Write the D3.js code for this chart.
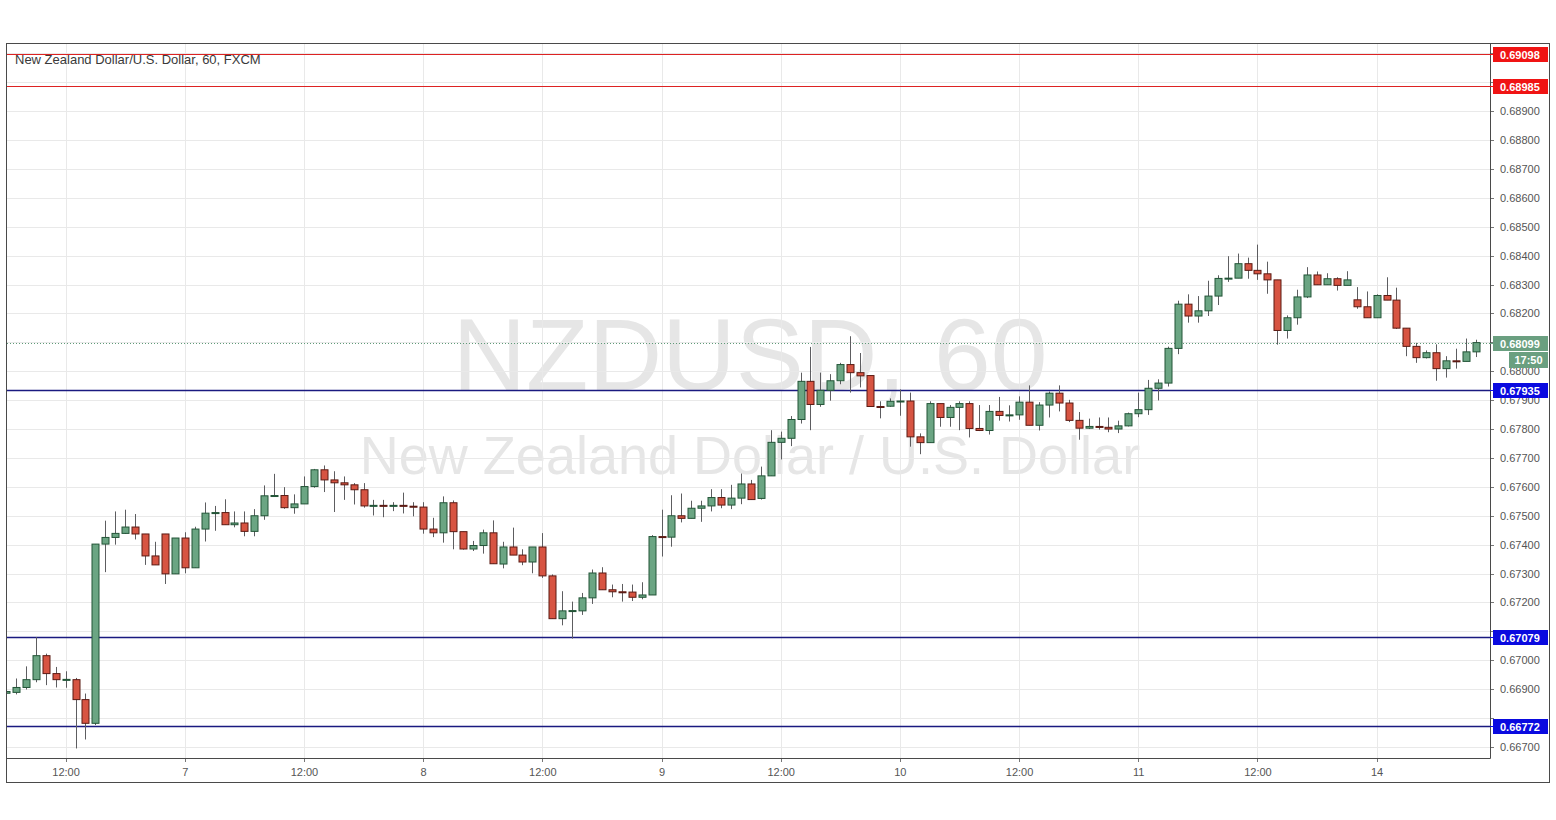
<!DOCTYPE html>
<html>
<head>
<meta charset="utf-8">
<script src="https://cdn.jsdelivr.net/npm/d3@7"></script>
<style>
  html, body { margin: 0; padding: 0; background: #ffffff; }
  svg { display: block; }
  text { font-family: "Liberation Sans", Arial, sans-serif; }
</style>
</head>
<body>
<svg id="chart" width="1556" height="820"></svg>
<script>
// ---------------- DATA ----------------
const symbolTitle = "New Zealand Dollar/U.S. Dollar, 60, FXCM";
const watermarkMain = "NZDUSD, 60";
const watermarkSub = "New Zealand Dollar / U.S. Dollar";

// hourly bars, index 0 = first bar shown
const opens = [
  0.66886,0.66889,0.66906,0.66933,0.67016,0.66954,0.66932,0.66933,0.66864,0.66782,
  0.67402,0.67425,0.67439,0.67461,0.67437,0.67361,0.67437,0.67299,0.67423,0.67320,
  0.67454,0.67510,0.67511,0.67469,0.67475,0.67446,0.67500,0.67569,0.67570,0.67528,
  0.67541,0.67601,0.67659,0.67624,0.67614,0.67607,0.67590,0.67533,0.67536,0.67533,
  0.67536,0.67533,0.67530,0.67454,0.67441,0.67545,0.67445,0.67385,0.67397,0.67441,
  0.67333,0.67392,0.67364,0.67340,0.67392,0.67292,0.67144,0.67171,0.67171,0.67216,
  0.67302,0.67244,0.67237,0.67236,0.67218,0.67226,0.67428,0.67426,0.67500,0.67491,
  0.67526,0.67534,0.67563,0.67537,0.67561,0.67610,0.67560,0.67638,0.67754,0.67768,
  0.67833,0.67965,0.67885,0.67934,0.67967,0.68023,0.67995,0.67985,0.67878,0.67879,
  0.67896,0.67897,0.67773,0.67753,0.67888,0.67840,0.67875,0.67888,0.67802,0.67795,
  0.67861,0.67847,0.67849,0.67893,0.67813,0.67883,0.67924,0.67890,0.67830,0.67803,
  0.67809,0.67806,0.67800,0.67811,0.67853,0.67867,0.67941,0.67959,0.68079,0.68232,
  0.68191,0.68209,0.68260,0.68321,0.68322,0.68372,0.68349,0.68337,0.68316,0.68141,
  0.68185,0.68257,0.68333,0.68299,0.68320,0.68297,0.68247,0.68223,0.68185,0.68262,
  0.68246,0.68149,0.68086,0.68047,0.68064,0.68009,0.68036,0.68034,0.68067
];
const highs = [
  0.66900,0.66937,0.66979,0.67080,0.67023,0.66977,0.66962,0.66939,0.66885,0.67402,
  0.67483,0.67515,0.67521,0.67506,0.67437,0.67410,0.67437,0.67423,0.67443,0.67462,
  0.67546,0.67534,0.67557,0.67515,0.67515,0.67523,0.67605,0.67645,0.67599,0.67574,
  0.67636,0.67662,0.67674,0.67654,0.67636,0.67613,0.67613,0.67555,0.67555,0.67547,
  0.67580,0.67547,0.67547,0.67493,0.67567,0.67553,0.67445,0.67413,0.67452,0.67484,
  0.67410,0.67459,0.67384,0.67392,0.67440,0.67297,0.67239,0.67203,0.67233,0.67314,
  0.67322,0.67262,0.67264,0.67262,0.67270,0.67433,0.67521,0.67571,0.67577,0.67552,
  0.67552,0.67592,0.67592,0.67607,0.67646,0.67624,0.67670,0.67796,0.67791,0.67845,
  0.67995,0.68084,0.67995,0.67990,0.68029,0.68121,0.68063,0.67985,0.67896,0.67906,
  0.67937,0.67926,0.67785,0.67896,0.67888,0.67883,0.67896,0.67896,0.67883,0.67883,
  0.67911,0.67882,0.67913,0.67951,0.67893,0.67930,0.67951,0.67901,0.67859,0.67836,
  0.67840,0.67840,0.67829,0.67857,0.67926,0.67970,0.67972,0.68085,0.68244,0.68266,
  0.68260,0.68313,0.68332,0.68398,0.68407,0.68393,0.68438,0.68379,0.68316,0.68193,
  0.68282,0.68360,0.68345,0.68339,0.68325,0.68346,0.68291,0.68276,0.68266,0.68325,
  0.68289,0.68149,0.68098,0.68072,0.68093,0.68052,0.68078,0.68113,0.68109
];
const lows = [
  0.66880,0.66882,0.66899,0.66924,0.66914,0.66906,0.66905,0.66695,0.66726,0.66776,
  0.67305,0.67400,0.67437,0.67418,0.67330,0.67330,0.67264,0.67299,0.67301,0.67320,
  0.67411,0.67448,0.67469,0.67460,0.67429,0.67429,0.67486,0.67567,0.67524,0.67507,
  0.67541,0.67597,0.67582,0.67513,0.67555,0.67539,0.67528,0.67501,0.67495,0.67516,
  0.67508,0.67498,0.67438,0.67426,0.67407,0.67384,0.67383,0.67378,0.67369,0.67334,
  0.67318,0.67364,0.67329,0.67301,0.67285,0.67144,0.67121,0.67075,0.67157,0.67195,
  0.67244,0.67218,0.67203,0.67205,0.67211,0.67226,0.67359,0.67393,0.67477,0.67491,
  0.67479,0.67515,0.67526,0.67523,0.67540,0.67555,0.67556,0.67638,0.67695,0.67741,
  0.67819,0.67796,0.67877,0.67898,0.67955,0.67926,0.67944,0.67878,0.67837,0.67877,
  0.67846,0.67739,0.67713,0.67753,0.67808,0.67808,0.67796,0.67771,0.67793,0.67781,
  0.67829,0.67826,0.67832,0.67813,0.67795,0.67840,0.67861,0.67824,0.67763,0.67800,
  0.67798,0.67789,0.67786,0.67809,0.67841,0.67849,0.67899,0.67947,0.68059,0.68168,
  0.68168,0.68191,0.68229,0.68309,0.68322,0.68320,0.68316,0.68268,0.68092,0.68113,
  0.68161,0.68253,0.68299,0.68299,0.68279,0.68297,0.68216,0.68185,0.68185,0.68246,
  0.68146,0.68052,0.68029,0.68044,0.67967,0.67978,0.68009,0.68034,0.68049
];
const closes = [
  0.66892,0.66906,0.66933,0.67016,0.66954,0.66933,0.66934,0.66864,0.66782,0.67402,
  0.67425,0.67439,0.67461,0.67437,0.67361,0.67330,0.67299,0.67423,0.67320,0.67454,
  0.67509,0.67511,0.67469,0.67475,0.67446,0.67500,0.67569,0.67570,0.67528,0.67541,
  0.67601,0.67659,0.67624,0.67614,0.67607,0.67590,0.67534,0.67536,0.67534,0.67536,
  0.67533,0.67530,0.67454,0.67441,0.67545,0.67445,0.67385,0.67397,0.67441,0.67334,
  0.67392,0.67364,0.67340,0.67392,0.67292,0.67144,0.67171,0.67172,0.67216,0.67302,
  0.67244,0.67237,0.67236,0.67218,0.67226,0.67428,0.67426,0.67500,0.67491,0.67526,
  0.67534,0.67563,0.67537,0.67561,0.67610,0.67556,0.67638,0.67754,0.67768,0.67833,
  0.67965,0.67885,0.67934,0.67967,0.68023,0.67995,0.67984,0.67878,0.67877,0.67896,
  0.67897,0.67773,0.67753,0.67888,0.67840,0.67875,0.67888,0.67802,0.67795,0.67861,
  0.67847,0.67849,0.67893,0.67813,0.67883,0.67924,0.67890,0.67830,0.67803,0.67809,
  0.67806,0.67800,0.67811,0.67853,0.67867,0.67941,0.67959,0.68079,0.68232,0.68191,
  0.68209,0.68260,0.68321,0.68322,0.68372,0.68349,0.68337,0.68316,0.68141,0.68185,
  0.68257,0.68333,0.68299,0.68320,0.68297,0.68316,0.68223,0.68185,0.68262,0.68246,
  0.68149,0.68086,0.68047,0.68064,0.68009,0.68036,0.68034,0.68067,0.68099
];

// time-axis labels placed at bar indices
const timeTickIndex = [6, 18, 30, 42, 54, 66, 78, 90, 102, 114, 126, 138];
const timeTickLabel = ["12:00","7","12:00","8","12:00","9","12:00","10","12:00","11","12:00","14"];

// horizontal levels
const resistanceLevels = [0.69098, 0.68985];
const supportLevels = [0.67935, 0.67079, 0.66772];
const lastPrice = 0.68099;
const countdown = "17:50";

// price axis ticks
const priceTicks = d3.range(0.667, 0.69101, 0.001).map(v => +v.toFixed(3));

// ---------------- LAYOUT ----------------
const plot = { left: 7, top: 44, right: 1490, bottom: 758 };
const frame = { left: 6.5, top: 43.5, right: 1549.5, bottom: 782.5 };

const svg = d3.select("#chart");

const n = opens.length;
const x = d3.scaleLinear().domain([0, n - 1]).range([6, 6 + (n - 1) * 9.932]);
const y = d3.scaleLinear().domain([0.66662, 0.69132]).range([plot.bottom, plot.top]);

const fmt = d3.format(".5f");

// clip
svg.append("defs").append("clipPath").attr("id", "plotclip")
  .append("rect").attr("x", plot.left).attr("y", plot.top)
  .attr("width", plot.right - plot.left).attr("height", plot.bottom - plot.top);

// watermark
const wm = svg.append("g").attr("fill", "#e6e6e6").attr("text-anchor", "middle");
wm.append("text").attr("x", 750).attr("y", 390).attr("font-size", 102).text(watermarkMain);
wm.append("text").attr("x", 750).attr("y", 474).attr("font-size", 54).text(watermarkSub);

// grid
const grid = svg.append("g").attr("clip-path", "url(#plotclip)");
grid.selectAll("line.h").data(d3.range(0.667, 0.6915, 0.001).map(v => +v.toFixed(3))).join("line")
  .attr("x1", plot.left).attr("x2", plot.right)
  .attr("y1", d => Math.round(y(d)) + 0.5).attr("y2", d => Math.round(y(d)) + 0.5)
  .attr("stroke", "#e9e9e9").attr("stroke-width", 1);
grid.selectAll("line.v").data(timeTickIndex).join("line")
  .attr("x1", d => Math.round(x(d)) + 0.5).attr("x2", d => Math.round(x(d)) + 0.5)
  .attr("y1", plot.top).attr("y2", plot.bottom)
  .attr("stroke", "#e9e9e9").attr("stroke-width", 1);

// title
svg.append("text").attr("x", 15).attr("y", 64).attr("font-size", 13)
  .attr("fill", "#3a3a3a").text(symbolTitle);

// levels lines
const lev = svg.append("g").attr("clip-path", "url(#plotclip)");
lev.selectAll("line.r").data(resistanceLevels).join("line")
  .attr("x1", plot.left).attr("x2", plot.right)
  .attr("y1", d => Math.round(y(d)) + 0.5).attr("y2", d => Math.round(y(d)) + 0.5)
  .attr("stroke", "#dd2222").attr("stroke-width", 1.2);
lev.selectAll("line.s").data(supportLevels).join("line")
  .attr("x1", plot.left).attr("x2", plot.right)
  .attr("y1", d => Math.round(y(d)) + 0.5).attr("y2", d => Math.round(y(d)) + 0.5)
  .attr("stroke", "#1a1a80").attr("stroke-width", 1.3);
lev.append("line")
  .attr("x1", plot.left).attr("x2", plot.right)
  .attr("y1", Math.round(y(lastPrice)) + 0.5).attr("y2", Math.round(y(lastPrice)) + 0.5)
  .attr("stroke", "#5f9a78").attr("stroke-width", 1).attr("stroke-dasharray", "1,2");

// candles
const bars = d3.range(n).map(i => ({ i, o: opens[i], h: highs[i], l: lows[i], c: closes[i] }));
const cg = svg.append("g").attr("clip-path", "url(#plotclip)");
const bw = 7;
cg.selectAll("line.wick").data(bars).join("line")
  .attr("x1", d => Math.round(x(d.i)) + 0.5).attr("x2", d => Math.round(x(d.i)) + 0.5)
  .attr("y1", d => y(d.h)).attr("y2", d => y(d.l))
  .attr("stroke", "#5d5d60").attr("stroke-width", 1);
cg.selectAll("rect.body").data(bars).join("rect")
  .attr("x", d => Math.round(x(d.i)) - bw / 2 + 0.5)
  .attr("width", bw)
  .attr("y", d => y(Math.max(d.o, d.c)))
  .attr("height", d => Math.max(1, Math.abs(y(d.o) - y(d.c))))
  .attr("fill", d => d.c >= d.o ? "#6ba583" : "#d75442")
  .attr("stroke", d => d.c >= d.o ? "#225437" : "#5b1a13")
  .attr("stroke-width", 1);

// price axis (labels hidden where a level box covers them)
const boxLevels = resistanceLevels.concat(supportLevels);
const visibleTicks = priceTicks.filter(t => boxLevels.every(b => Math.abs(y(t) - y(b)) >= 9));
const ax = svg.append("g");
ax.selectAll("line.tk").data(priceTicks).join("line")
  .attr("x1", plot.right).attr("x2", plot.right + 4)
  .attr("y1", d => Math.round(y(d)) + 0.5).attr("y2", d => Math.round(y(d)) + 0.5)
  .attr("stroke", "#777");
ax.selectAll("text.tl").data(visibleTicks).join("text")
  .attr("x", plot.right + 10).attr("y", d => y(d) + 4)
  .attr("font-size", 11).attr("fill", "#555").text(d => fmt(d));

// time axis
svg.selectAll("line.xt").data(timeTickIndex).join("line")
  .attr("x1", d => Math.round(x(d)) + 0.5).attr("x2", d => Math.round(x(d)) + 0.5)
  .attr("y1", plot.bottom).attr("y2", plot.bottom + 4).attr("stroke", "#777");
svg.selectAll("text.xl").data(timeTickIndex).join("text")
  .attr("x", d => x(d) + 0.5).attr("y", plot.bottom + 18)
  .attr("text-anchor", "middle").attr("font-size", 11).attr("fill", "#555")
  .text((d, k) => timeTickLabel[k]);

// frame
svg.append("rect").attr("x", frame.left).attr("y", frame.top)
  .attr("width", frame.right - frame.left).attr("height", frame.bottom - frame.top)
  .attr("fill", "none").attr("stroke", "#4a4a4a").attr("stroke-width", 1);
svg.append("line").attr("x1", plot.right + 0.5).attr("x2", plot.right + 0.5)
  .attr("y1", frame.top).attr("y2", plot.bottom + 0.5).attr("stroke", "#4a4a4a");
svg.append("line").attr("x1", frame.left).attr("x2", plot.right + 0.5)
  .attr("y1", plot.bottom + 0.5).attr("y2", plot.bottom + 0.5).attr("stroke", "#4a4a4a");

// price label boxes
function priceBox(v, color, textColor) {
  const yy = Math.round(y(v));
  const g = svg.append("g");
  g.append("line").attr("x1", plot.right).attr("x2", plot.right + 4)
    .attr("y1", yy + 0.5).attr("y2", yy + 0.5).attr("stroke", color);
  g.append("rect").attr("x", plot.right + 3).attr("y", yy - 7)
    .attr("width", 1548 - (plot.right + 3)).attr("height", 15).attr("fill", color);
  g.append("text").attr("x", plot.right + 10).attr("y", yy + 4.5)
    .attr("font-size", 11).attr("font-weight", "bold").attr("fill", textColor)
    .text(fmt(v));
}
resistanceLevels.forEach(v => priceBox(v, "#f01414", "#ffffff"));
supportLevels.forEach(v => priceBox(v, "#0a0ae0", "#ffffff"));
priceBox(lastPrice, "#6a9f80", "#ffffff");
// countdown box
{
  const yy = Math.round(y(lastPrice)) + 9;
  svg.append("rect").attr("x", 1509).attr("y", yy).attr("width", 39).attr("height", 16)
    .attr("fill", "#6a9f80");
  svg.append("text").attr("x", 1528.5).attr("y", yy + 12).attr("text-anchor", "middle")
    .attr("font-size", 11).attr("font-weight", "bold").attr("fill", "#ffffff").text(countdown);
}
</script>
</body>
</html>
